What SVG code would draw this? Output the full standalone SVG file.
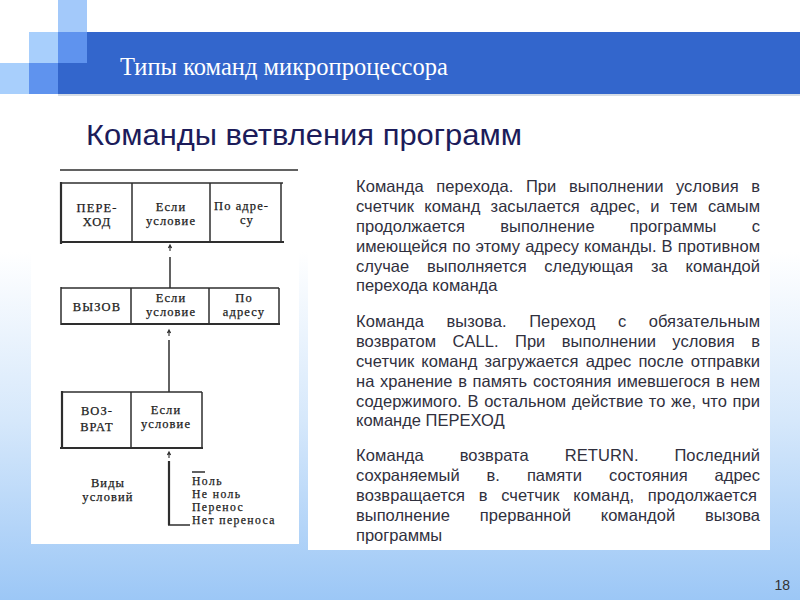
<svg xmlns="http://www.w3.org/2000/svg" width="800" height="600" viewBox="0 0 800 600">
<defs>
<linearGradient id="bg" x1="0" y1="0" x2="0" y2="1">
<stop offset="0" stop-color="#ffffff"/>
<stop offset="0.42" stop-color="#ffffff"/>
<stop offset="0.7" stop-color="#d6e8fb"/>
<stop offset="1" stop-color="#9cc7f6"/>
</linearGradient>
<style>
.t{font-family:"Liberation Sans",Arial,sans-serif;font-size:16.5px;fill:#30303e}
.s{font-family:"Liberation Serif","Times New Roman",serif;font-size:12.5px;letter-spacing:1.1px;fill:#1c1c1c;stroke:#1c1c1c;stroke-width:0.25;text-anchor:middle}
.sl{font-family:"Liberation Serif","Times New Roman",serif;font-size:12.5px;letter-spacing:1.1px;fill:#1c1c1c;stroke:#1c1c1c;stroke-width:0.25}
.sc{font-family:"Liberation Serif","Times New Roman",serif;font-size:11.7px;letter-spacing:1.4px;fill:#1c1c1c;stroke:#1c1c1c;stroke-width:0.25}
.ln{stroke:#2e2e2e;stroke-width:1.5;fill:none}
.lb{stroke:#2e2e2e;stroke-width:2.2;fill:none}
.ar{stroke:#2e2e2e;stroke-width:1.1;fill:none}
</style>
</defs>
<rect width="800" height="600" fill="url(#bg)"/>
<!-- header decoration -->
<rect x="58" y="0" width="29" height="32" fill="#a3c9fa"/>
<rect x="29" y="32" width="29" height="31" fill="#a8cffc"/>
<rect x="0" y="63" width="29" height="31" fill="#a8cffc"/>
<rect x="58" y="32" width="742" height="62" fill="#3366cc"/>
<rect x="58" y="32" width="29" height="31" fill="#5f93ee"/>
<rect x="29" y="63" width="29" height="31" fill="#5f93ee"/>
<line x1="58" y1="95" x2="800" y2="95" stroke="#c9d2de" stroke-width="1.5"/>
<text x="120" y="75" font-family="Liberation Serif,'Times New Roman',serif" font-size="24.5" fill="#ffffff">Типы команд микропроцессора</text>
<text x="86" y="145" font-family="Liberation Sans,Arial,sans-serif" font-size="29" fill="#1c1c5a" textLength="436" lengthAdjust="spacingAndGlyphs">Команды ветвления программ</text>
<!-- panels -->
<rect x="31" y="152" width="268" height="392" fill="#ffffff"/>
<rect x="308" y="165" width="462" height="385" fill="#ffffff"/>
<!-- left scanned diagram -->
<line x1="60" y1="170" x2="298" y2="170" class="ln"/>
<g id="box-perekhod">
<line x1="61" y1="183" x2="283" y2="183" class="ln"/>
<line x1="61" y1="242" x2="284" y2="242" class="lb"/>
<line x1="61" y1="182" x2="61" y2="244" class="lb"/>
<line x1="281" y1="183" x2="281" y2="242" class="ln"/>
<line x1="132" y1="183" x2="132" y2="242" class="ln"/>
<line x1="210" y1="183" x2="210" y2="242" class="ln"/>
<text x="97" y="212" class="s">ПЕРЕ-</text>
<text x="97" y="226" class="s">ХОД</text>
<text x="171" y="211" class="s">Если</text>
<text x="171" y="225" class="s">условие</text>
<text x="214" y="210" class="sl">По  адре-</text>
<text x="247" y="224" class="s">су</text>
</g>
<g id="box-vyzov">
<line x1="61" y1="288" x2="279" y2="288" class="ln"/>
<line x1="61" y1="324" x2="280" y2="324" class="lb"/>
<line x1="61" y1="287" x2="61" y2="325" class="ln"/>
<line x1="279" y1="288" x2="279" y2="324" class="ln"/>
<line x1="131" y1="288" x2="131" y2="324" class="ln"/>
<line x1="209" y1="288" x2="209" y2="324" class="ln"/>
<text x="97" y="311" class="s">ВЫЗОВ</text>
<text x="171" y="302" class="s">Если</text>
<text x="171" y="316" class="s">условие</text>
<text x="244" y="302" class="s">По</text>
<text x="244" y="316" class="s">адресу</text>
</g>
<g id="box-vozvrat">
<line x1="62" y1="392" x2="202" y2="392" class="ln"/>
<line x1="60" y1="448" x2="203" y2="448" class="lb"/>
<line x1="62" y1="391" x2="62" y2="449" class="lb"/>
<line x1="202" y1="392" x2="202" y2="448" class="ln"/>
<line x1="131" y1="392" x2="131" y2="448" class="ln"/>
<text x="97" y="415" class="s">ВОЗ-</text>
<text x="97" y="431" class="s">ВРАТ</text>
<text x="166" y="414" class="s">Если</text>
<text x="166" y="428" class="s">условие</text>
</g>
<g id="conditions">
<text x="108" y="487" class="s">Виды</text>
<text x="108" y="501" class="s">условий</text>
<line x1="192" y1="472" x2="205" y2="472" class="ln"/>
<text x="192" y="485" class="sc">Ноль</text>
<text x="192" y="498" class="sc">Не  ноль</text>
<text x="192" y="511" class="sc">Перенос</text>
<text x="192" y="524" class="sc">Нет  переноса</text>
</g>
<g id="connectors">
<path d="M170,251 V245 M168.4,248 L170,245 L171.6,248" class="ar"/>
<line x1="170" y1="257" x2="170" y2="288" class="ln"/>
<path d="M169,336 V330 M167.4,333 L169,330 L170.6,333" class="ar"/>
<line x1="169" y1="340" x2="169" y2="392" class="ln"/>
<path d="M169,458 V452 M167.4,455 L169,452 L170.6,455" class="ar"/>
<line x1="169" y1="461" x2="169" y2="525" class="lb"/>
<line x1="168" y1="525" x2="190" y2="525" class="ln"/>
</g>
<!-- right text -->
<g id="text-perekhod">
<text x="356" y="192" class="t" word-spacing="7.9" textLength="404" lengthAdjust="spacing">Команда перехода. При выполнении условия в</text>
<text x="356" y="212" class="t" word-spacing="5.6" textLength="404" lengthAdjust="spacing">счетчик команд засылается адрес, и тем самым</text>
<text x="356" y="232" class="t" word-spacing="30.6" textLength="404" lengthAdjust="spacing">продолжается выполнение программы с</text>
<text x="356" y="252" class="t" word-spacing="0.5" textLength="404" lengthAdjust="spacing">имеющейся по этому адресу команды. В противном</text>
<text x="356" y="272" class="t" word-spacing="13.1" textLength="404" lengthAdjust="spacing">случае выполняется следующая за командой</text>
<text x="356" y="291" class="t">перехода команда</text>
</g>
<g id="text-vyzov">
<text x="356" y="327" class="t" word-spacing="17.7" textLength="404" lengthAdjust="spacing">Команда вызова. Переход с обязательным</text>
<text x="356" y="347" class="t" word-spacing="11.8" textLength="404" lengthAdjust="spacing">возвратом CALL. При выполнении условия в</text>
<text x="356" y="367" class="t" word-spacing="2.5" textLength="404" lengthAdjust="spacing">счетчик команд загружается адрес после отправки</text>
<text x="356" y="387" class="t" word-spacing="1.1" textLength="404" lengthAdjust="spacing">на хранение в память состояния имевшегося в нем</text>
<text x="356" y="407" class="t" word-spacing="1.1" textLength="404" lengthAdjust="spacing">содержимого. В остальном действие то же, что при</text>
<text x="356" y="426" class="t">команде ПЕРЕХОД</text>
</g>
<g id="text-vozvrat">
<text x="356" y="461" class="t" word-spacing="31.2" textLength="404" lengthAdjust="spacing">Команда возврата RETURN. Последний</text>
<text x="356" y="481" class="t" word-spacing="22.4" textLength="404" lengthAdjust="spacing">сохраняемый в. памяти состояния адрес</text>
<text x="356" y="501" class="t" word-spacing="9" textLength="401" lengthAdjust="spacing">возвращается в счетчик команд, продолжается</text>
<text x="356" y="521" class="t" word-spacing="25.2" textLength="404" lengthAdjust="spacing">выполнение прерванной командой вызова</text>
<text x="356" y="541" class="t">программы</text>
</g>
<text x="790" y="590" font-family="Liberation Sans,Arial,sans-serif" font-size="14" fill="#333" text-anchor="end">18</text>
</svg>
